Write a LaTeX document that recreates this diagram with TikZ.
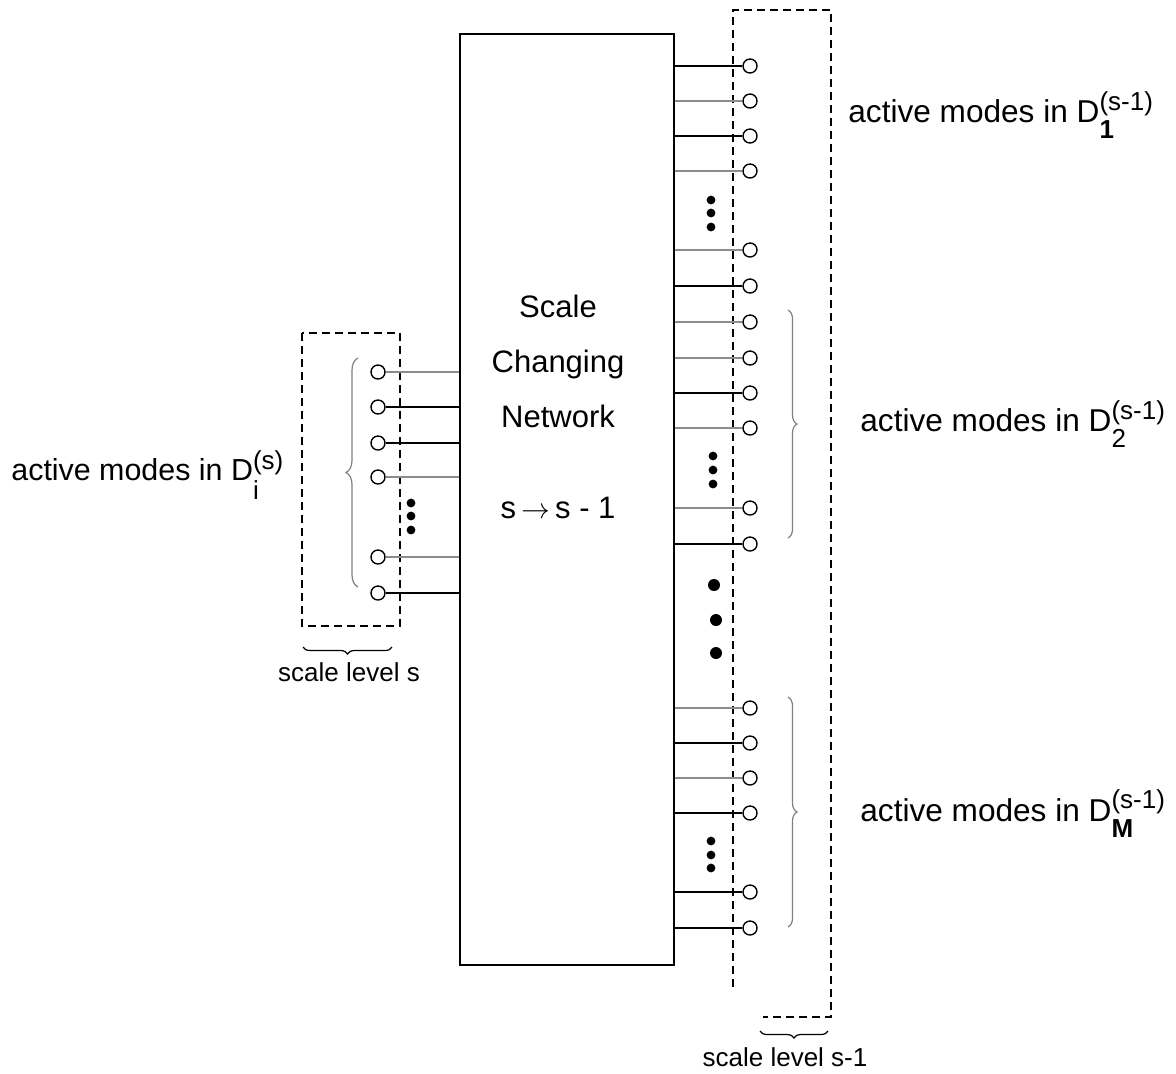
\documentclass[tikz,border=0pt]{standalone}
\usepackage{fontspec}
\setmainfont{Liberation Sans}
\usetikzlibrary{decorations.pathreplacing}

\tikzset{
  port/.style={draw, circle, fill=white, inner sep=0pt, minimum size=7pt, line width=0.7pt},
  wire/.style={line width=0.75pt},
  frame/.style={dash pattern=on 4pt off 2.5pt, line width=0.7pt},
  grp/.style={decorate, decoration={brace, amplitude=#1}, draw=black!50, line width=0.6pt},
  lbl/.style={font=\fontsize{15.8}{18}\selectfont, inner sep=0pt, anchor=base west},
  big/.style={font=\fontsize{15.5}{18}\selectfont, inner sep=0pt, anchor=base},
  small/.style={font=\fontsize{13}{15}\selectfont, inner sep=0pt, anchor=base}
}
\newcommand{\supsub}{\fontsize{13}{15}\selectfont}
\newcommand{\modes}[4]{active modes in D\rlap{\raisebox{#4}{\supsub #2}}\raisebox{-#3}{\supsub #1}}

\begin{document}
\begin{tikzpicture}[x=0.5pt, y=-0.5pt]
		\useasboundingbox (0,0) rectangle (1176,1073);
		%%%%% START %%%%%
		
		% network block
		\node[draw, line width=0.8pt, inner sep=0pt, minimum width=107pt, minimum height=465.5pt, anchor=north west] (net) at (459,33) {};
		\node[big] (nt1) at (558,317) {Scale};
		\node[big] (nt2) at (558,372) {Changing};
		\node[big] (nt3) at (558,427) {Network};
		\node[big] (nt4) at (558,518) {s\,\ensuremath{\rightarrow}\,s - 1};
		
		% scale level s-1
		\draw[frame] (733,987) -- (733,10) -- (831,10) -- (831,1017) -- (763,1017);
		\foreach \y/\c [count=\i] in {66/black, 101/black!45, 136/black, 171/black!45, 250/black!45, 286/black,
		                              322/black!45, 358/black!45, 393/black, 428/black!45, 508/black!45, 544/black,
		                              708/black!45, 743/black, 778/black!45, 813/black, 892/black, 928/black}
		{
			\node[port] (r\i) at (750,\y) {};
			\draw[wire, color=\c] (net.east |- r\i) -- (r\i.west);
		}
		\foreach \y in {200,213,227} \fill (711,\y) circle (2.2pt);
		\foreach \y in {456,470,484} \fill (713,\y) circle (2.2pt);
		\foreach \y in {841,855,868} \fill (711,\y) circle (2.2pt);
		\fill (714,585) circle (3pt);
		\fill (716,620) circle (3pt);
		\fill (716,653) circle (3pt);
		
		\draw[grp=4.5pt] (788,310) -- (788,538);
		\draw[grp=4.5pt] (788,697) -- (788,927);
		
		\node[lbl] (d1) at (848,122) {\modes{\textbf{1}}{(s-1)}{8pt}{6pt}};
		\node[lbl] (d2) at (860,431) {\modes{2}{(s-1)}{8pt}{6pt}};
		\node[lbl] (dM) at (860,821) {\modes{\textbf{M}}{(s-1)}{8pt}{6.5pt}};
		
		\draw[decorate, decoration={brace, amplitude=3.5pt}, line width=0.6pt] (828,1031) -- (760,1031);
		\node[small] (lv2) at (785,1066) {scale level s-1};
		
		% scale level s
		\draw[frame] (302,333) rectangle (400,626);
		\foreach \y/\c [count=\i] in {372/black!45, 407/black, 443/black, 477/black!45, 557/black!45, 593/black}
		{
			\node[port] (l\i) at (378,\y) {};
			\draw[wire, color=\c] (l\i.east) -- (net.west |- l\i);
		}
		\foreach \y in {503,516,530} \fill (411,\y) circle (2.2pt);
		
		\draw[grp=6pt] (358,587) -- (358,358);
		\node[lbl, font=\fontsize{15.2}{18}\selectfont] (di) at (11,480) {\modes{i}{(s)}{9.5pt}{5.5pt}};
		
		\draw[decorate, decoration={brace, amplitude=3.5pt}, line width=0.6pt] (392,647) -- (303,647);
		\node[small] (lv1) at (349,681) {scale level s};
		
		%%%%% END %%%%%
\end{tikzpicture}
\end{document}
